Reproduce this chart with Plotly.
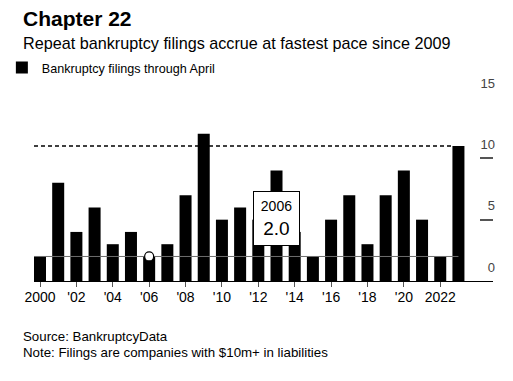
import plotly.graph_objects as go

years = list(range(2000, 2024))
filings = [2, 8, 4, 6, 3, 4, 2, 3, 7, 12, 5, 6, 5, 9, 4, 2, 5, 7, 3, 7, 9, 5, 2, 11]
x_tickvals = list(range(2000, 2023, 2))
x_ticktext = ["2000", "'02", "'04", "'06", "'08", "'10", "'12", "'14", "'16", "'18", "'20", "2022"]
y_tickvals = [0, 5, 10, 15]
highlight_year = 2006
highlight_value = filings[years.index(highlight_year)]
latest_value = filings[-1]

FONT = "Liberation Sans, Arial, Helvetica, sans-serif"
x_start = years[0] - 0.33

fig = go.Figure()
fig.add_trace(go.Bar(
    x=years, y=filings, name="Bankruptcy filings through April",
    marker=dict(color="black", line=dict(width=0)),
    showlegend=True, hoverinfo="skip",
))
fig.add_trace(go.Scatter(
    x=[x_start, years[-1]], y=[highlight_value, highlight_value],
    mode="lines", line=dict(color="#6e6e6e", width=1), showlegend=False, hoverinfo="skip",
))
fig.add_trace(go.Scatter(
    x=[x_start, years[-1] - 0.33], y=[latest_value, latest_value],
    mode="lines", line=dict(color="black", width=1.4, dash="4px,3px"), showlegend=False, hoverinfo="skip",
))
fig.add_trace(go.Scatter(
    x=[highlight_year], y=[highlight_value], mode="markers",
    marker=dict(color="white", size=9, line=dict(color="black", width=1.2)),
    showlegend=False, hoverinfo="skip",
))

# page body adds an 8px offset; figure is sized and placed to compensate
fig.update_layout(
    width=505, height=373,
    margin=dict(l=26, r=20, t=89, b=100, autoexpand=False),
    paper_bgcolor="white", plot_bgcolor="white",
    font=dict(family=FONT, color="black", size=13),
    bargap=0.34,
    legend=dict(x=-0.07, xanchor="left", y=1.158, yanchor="middle", orientation="h",
                font=dict(size=12.6, family=FONT), bgcolor="rgba(0,0,0,0)"),
    xaxis=dict(range=[x_start, 2024.9], tickvals=x_tickvals, ticktext=x_ticktext, automargin=False,
               showline=True, linecolor="black", linewidth=1, showgrid=False, zeroline=False,
               ticks="outside", ticklen=5, tickcolor="#555", tickfont=dict(size=14),
               ticklabelstandoff=-2),
    yaxis=dict(range=[0, 15], tickvals=y_tickvals, side="right", ticks="inside", ticklen=13,
               tickcolor="#555", tickwidth=1.5,
               ticklabelposition="inside top", ticklabeloverflow="allow",
               ticklabelshift=-4, ticklabelstandoff=-5,
               automargin=False,
               showgrid=False, zeroline=False, showline=False, tickfont=dict(size=13)),
    annotations=[
        dict(text="<b>Chapter 22</b>",
             xref="paper", yref="paper", x=-0.0283, y=1.4266, xanchor="left", yanchor="middle",
             showarrow=False, font=dict(size=21)),
        dict(text="Repeat bankruptcy filings accrue at fastest pace since 2009",
             xref="paper", yref="paper", x=-0.0283, y=1.293, xanchor="left", yanchor="middle",
             showarrow=False, font=dict(size=16.2)),
        dict(text="Source: BankruptcyData",
             xref="paper", yref="paper", x=-0.0283, y=-0.303, xanchor="left", yanchor="middle",
             align="left", showarrow=False, font=dict(size=13.3)),
        dict(text="Note: Filings are companies with $10m+ in liabilities",
             xref="paper", yref="paper", x=-0.0283, y=-0.387, xanchor="left", yanchor="middle",
             align="left", showarrow=False, font=dict(size=13.3)),
        dict(text=f"<span style='font-size:14px'>{highlight_year}</span><br>{highlight_value:.1f}",
             xref="x", yref="y", x=2013.0, y=5.07, xanchor="center", yanchor="middle",
             width=45, height=53,
             showarrow=False, bgcolor="white", bordercolor="black", borderwidth=1, borderpad=0,
             align="center", font=dict(size=19)),
    ],
)
fig.write_html("out.html")
